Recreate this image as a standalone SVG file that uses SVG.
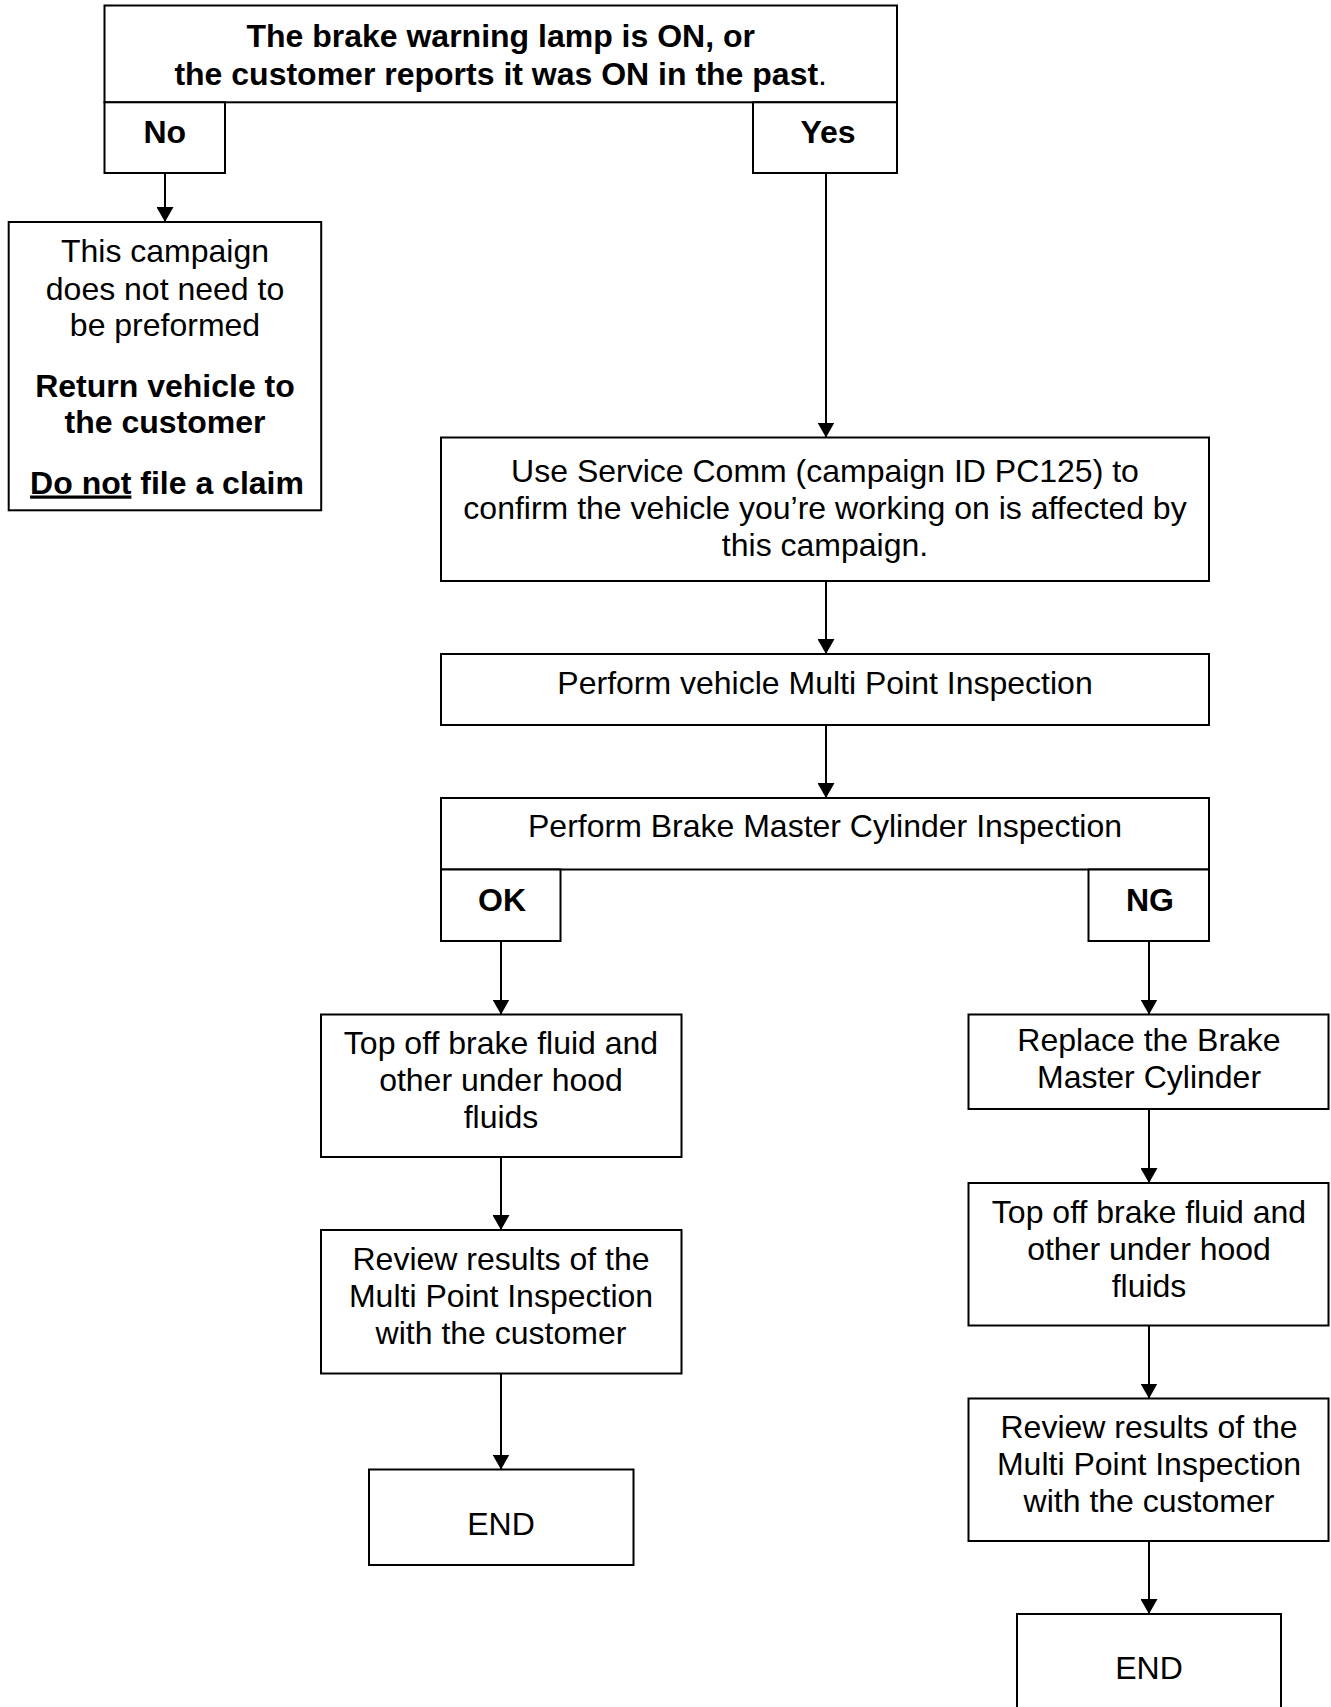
<svg xmlns="http://www.w3.org/2000/svg" width="1331" height="1707" viewBox="0 0 1331 1707">
<style>
.box{fill:#fff;stroke:#000;stroke-width:2}
.t{font-family:"Liberation Sans",Arial,sans-serif;font-size:32px;fill:#000;text-anchor:middle}
.b{font-weight:bold}
.c{stroke:#000;stroke-width:2;fill:none}
</style>
<defs>
<marker id="ah" viewBox="0 0 15 17" refX="15" refY="8.5" markerWidth="15" markerHeight="17" markerUnits="userSpaceOnUse" orient="auto">
<path d="M0,0 L15,8.5 L0,17 Z" fill="#000"/>
</marker>
</defs>
<rect width="1331" height="1707" fill="#fff"/>
<g id="connectors">
<line class="c" x1="165" y1="173" x2="165" y2="222" marker-end="url(#ah)"/>
<line class="c" x1="826" y1="173" x2="826" y2="437.5" marker-end="url(#ah)"/>
<line class="c" x1="826" y1="581" x2="826" y2="654" marker-end="url(#ah)"/>
<line class="c" x1="826" y1="725" x2="826" y2="798" marker-end="url(#ah)"/>
<line class="c" x1="501" y1="941" x2="501" y2="1014.5" marker-end="url(#ah)"/>
<line class="c" x1="501" y1="1157" x2="501" y2="1230" marker-end="url(#ah)"/>
<line class="c" x1="501" y1="1373.5" x2="501" y2="1469.5" marker-end="url(#ah)"/>
<line class="c" x1="1149" y1="941" x2="1149" y2="1014.5" marker-end="url(#ah)"/>
<line class="c" x1="1149" y1="1109" x2="1149" y2="1183" marker-end="url(#ah)"/>
<line class="c" x1="1149" y1="1325.5" x2="1149" y2="1398.5" marker-end="url(#ah)"/>
<line class="c" x1="1149" y1="1541" x2="1149" y2="1614" marker-end="url(#ah)"/>
</g>
<g id="decision1">
<rect class="box" x="104.5" y="5.5" width="792.5" height="96.8"/>
<text class="t b" x="500.7" y="47">The brake warning lamp is ON, or</text>
<text class="t b" x="500.7" y="85">the customer reports it was ON in the past<tspan font-weight="normal">.</tspan></text>
</g>
<g id="no">
<rect class="box" x="104.5" y="102.3" width="120.5" height="70.7"/>
<text class="t b" x="164.8" y="143">No</text>
</g>
<g id="yes">
<rect class="box" x="753" y="102.3" width="144" height="70.7"/>
<text class="t b" x="828" y="143">Yes</text>
</g>
<g id="not-needed">
<rect class="box" x="8.7" y="222" width="312.5" height="288.3"/>
<text class="t" x="165" y="262">This campaign</text>
<text class="t" x="165" y="300">does not need to</text>
<text class="t" x="165" y="336">be preformed</text>
<text class="t b" x="165" y="397">Return vehicle to</text>
<text class="t b" x="165" y="433">the customer</text>
<text class="t b" x="167" y="493.5" font-size="30.5"><tspan text-decoration="underline">Do not</tspan> file a claim</text>
</g>
<g id="service-comm">
<rect class="box" x="441" y="437.5" width="768" height="143.5"/>
<text class="t" x="825" y="482">Use Service Comm (campaign ID PC125) to</text>
<text class="t" x="825" y="519">confirm the vehicle you’re working on is affected by</text>
<text class="t" x="825" y="556">this campaign.</text>
</g>
<g id="mpi">
<rect class="box" x="441" y="654" width="768" height="71"/>
<text class="t" x="825" y="694">Perform vehicle Multi Point Inspection</text>
</g>
<g id="bmc">
<rect class="box" x="441" y="798" width="768" height="71.5"/>
<text class="t" x="825" y="837">Perform Brake Master Cylinder Inspection</text>
</g>
<g id="ok">
<rect class="box" x="441" y="869.5" width="119.5" height="71.5"/>
<text class="t b" x="502" y="911">OK</text>
</g>
<g id="ng">
<rect class="box" x="1088.5" y="869.5" width="120.5" height="71.5"/>
<text class="t b" x="1150" y="911">NG</text>
</g>
<g id="topoff-ok">
<rect class="box" x="321" y="1014.5" width="360.5" height="142.5"/>
<text class="t" x="501" y="1054">Top off brake fluid and</text>
<text class="t" x="501" y="1091">other under hood</text>
<text class="t" x="501" y="1128">fluids</text>
</g>
<g id="review-ok">
<rect class="box" x="321" y="1230" width="360.5" height="143.5"/>
<text class="t" x="501" y="1270">Review results of the</text>
<text class="t" x="501" y="1307">Multi Point Inspection</text>
<text class="t" x="501" y="1344">with the customer</text>
</g>
<g id="end-ok">
<rect class="box" x="369" y="1469.5" width="264.5" height="95.5"/>
<text class="t" x="501" y="1535">END</text>
</g>
<g id="replace">
<rect class="box" x="968.5" y="1014.5" width="360" height="94.5"/>
<text class="t" x="1149" y="1051">Replace the Brake</text>
<text class="t" x="1149" y="1088">Master Cylinder</text>
</g>
<g id="topoff-ng">
<rect class="box" x="968.5" y="1183" width="360" height="142.5"/>
<text class="t" x="1149" y="1223">Top off brake fluid and</text>
<text class="t" x="1149" y="1260">other under hood</text>
<text class="t" x="1149" y="1297">fluids</text>
</g>
<g id="review-ng">
<rect class="box" x="968.5" y="1398.5" width="360" height="142.5"/>
<text class="t" x="1149" y="1438">Review results of the</text>
<text class="t" x="1149" y="1475">Multi Point Inspection</text>
<text class="t" x="1149" y="1512">with the customer</text>
</g>
<g id="end-ng">
<rect class="box" x="1017" y="1614" width="264" height="100"/>
<text class="t" x="1149" y="1679">END</text>
</g>
</svg>
